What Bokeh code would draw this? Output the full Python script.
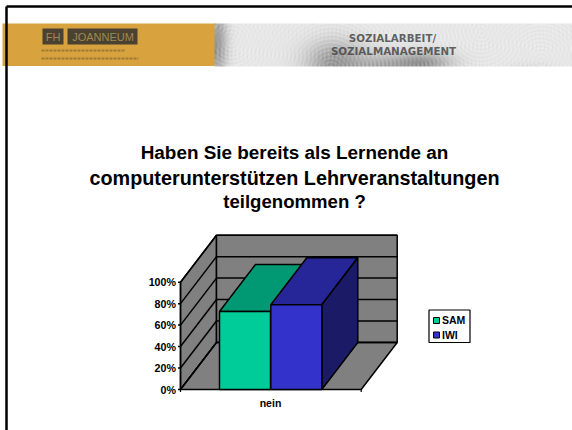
import numpy as np
from bokeh.plotting import figure
from bokeh.models import Range1d
from bokeh.core.properties import value
from bokeh.embed import file_html
from bokeh.resources import INLINE

# ---- chart values
categories = ["nein"]
series_names = ["SAM", "IWI"]
sam_values = [72.7]
iwi_values = [79.0]
tick_values = [0, 20, 40, 60, 80, 100]
tick_labels = ["0%", "20%", "40%", "60%", "80%", "100%"]
title_lines = ["Haben Sie bereits als Lernende an",
               "computerunterstützen Lehrveranstaltungen",
               "teilgenommen ?"]

W, H = 572, 430
PX_PER_PCT = 1.073     # vertical scale of the value axis
Y0_PX = 389            # page pixel of the 0% line
DX, DY = 36, 47 / PX_PER_PCT   # 3-D depth
X0, X1 = 180, 360.7    # floor front edge
BAR_L, BAR_W = 219, 51


def Y(px):
    return (Y0_PX - px) / PX_PER_PCT


FONT = value("Liberation Sans")
p = figure(width=W, height=H, output_backend="svg", toolbar_location=None,
           x_range=Range1d(0, W), y_range=Range1d(Y(H), Y(0)),
           x_axis_type=None, y_axis_type=None, min_border=0,
           outline_line_color=None)
p.grid.visible = False

# ---- banner
GOLD = "#D8A33F"
p.quad(left=2, right=215, bottom=Y(65.5), top=Y(23), fill_color=GOLD, line_color=None)

bw, bh = 358, 43
yy, xx = np.mgrid[0:bh, 0:bw]
xx = xx + 214.0
yy = yy + 23.0
shade = np.zeros((bh, bw))
ripple = np.zeros((bh, bw))
blobs = [(335, 62, 30, 22, 0.30), (420, 62, 30, 11, 0.32), (380, 68, 25, 14, 0.18),
         (216, 42, 10, 40, 0.30), (530, 72, 22, 8, 0.08)]
for cx, cy, sx, sy, amp in blobs:
    g = np.exp(-(((xx - cx) / sx) ** 2 + ((yy - cy) / sy) ** 2))
    shade += amp * g
for cx, cy in [(330, 70), (480, 30), (230, 40), (540, 60)]:
    ripple += np.sin(np.hypot(xx - cx, yy - cy) * 1.6)
ripple /= 4
gray = 0.91 - shade + ripple * (0.07 + 0.40 * shade)
gray = np.clip(gray, 0, 1)
k = np.array([0.25, 0.5, 0.25])
gray = np.apply_along_axis(lambda r: np.convolve(r, k, mode="same"), 1, gray)
gray[:, 0] = gray[:, 1]
gray[:, -1] = gray[:, -2]
img = np.zeros((bh, bw), dtype=np.uint32)
view = img.view(dtype=np.uint8).reshape((bh, bw, 4))
v = (gray * 255).astype(np.uint8)
view[..., 0] = v
view[..., 1] = v
view[..., 2] = v
view[..., 3] = 255
p.image_rgba(image=[img[::-1]], x=214, y=Y(66), dw=bw, dh=(bh) / PX_PER_PCT)

# logo
p.quad(left=[42, 67], right=[63, 137], bottom=Y(44), top=Y(28),
       fill_color="#3B3630", line_color=None, fill_alpha=0.9)
p.text(x=[52.5, 102.5], y=Y(36), text=["FH", "JOANNEUM"], text_font=FONT,
       text_font_size="11px", text_color="#A08850", text_align="center",
       text_baseline="middle")
p.segment(x0=[41, 41], x1=[125, 138], y0=[Y(50), Y(58)], y1=[Y(50), Y(58)],
          line_color="#5A4A2E", line_width=2, line_alpha=0.45, line_dash="3 1")
p.text(x=[392, 393], y=[Y(37), Y(50)], text=["SOZIALARBEIT/", "SOZIALMANAGEMENT"],
       text_font=value("DejaVu Sans"), text_font_style="bold", text_font_size="10.3px",
       text_color="#3c3c3c", text_align="center", text_baseline="middle", text_alpha=0.8)

# ---- slide frame
p.segment(x0=[6, 6], x1=[6, W], y0=[Y(6), Y(6)], y1=[Y(H), Y(6)],
          line_color="#000000", line_width=2.5)

# ---- title
p.text(x=[294, 294, 294], y=[Y(152), Y(177), Y(201)], text=title_lines, text_font=FONT,
       text_font_style="bold", text_font_size=["18.9px", "19.8px", "18.6px"],
       text_color="#000000", text_align="center", text_baseline="middle")

# ---- 3-D chart box
WALL = "#808080"
top = tick_values[-1]
bl = 0
p.patch([X0, X0 + DX, X0 + DX, X0], [bl, bl + DY, top + DY, top], fill_color=WALL,
        line_color="#000000", line_width=1.5)
p.patch([X0 + DX, X1 + DX, X1 + DX, X0 + DX], [bl + DY, bl + DY, top + DY, top + DY],
        fill_color=WALL, line_color="#000000", line_width=1.5)
p.patch([X0, X1, X1 + DX, X0 + DX], [bl, bl, bl + DY, bl + DY], fill_color=WALL,
        line_color="#000000", line_width=1.5)
# gridlines on the walls
p.segment(x0=[X0 + DX] * len(tick_values), x1=[X1 + DX] * len(tick_values),
          y0=[t + DY for t in tick_values], y1=[t + DY for t in tick_values],
          line_color="#000000", line_width=1.5)
p.segment(x0=[X0] * len(tick_values), x1=[X0 + DX] * len(tick_values),
          y0=tick_values, y1=[t + DY for t in tick_values],
          line_color="#000000", line_width=1.5)
# value axis
p.segment(x0=[X0], x1=[X0], y0=[0], y1=[top], line_color="#000000", line_width=1.5)
p.segment(x0=[X0 - 2.5] * len(tick_values), x1=[X0] * len(tick_values),
          y0=tick_values, y1=tick_values, line_color="#000000", line_width=1.5)
p.text(x=X0 - 4.5, y=tick_values, text=tick_labels, text_font=FONT, text_font_style="bold",
       text_font_size="10.7px", text_color="#000000", text_align="right", text_baseline="middle")
# category axis
p.segment(x0=[X0, X1], x1=[X0, X1], y0=[0, 0], y1=[Y(391.5), Y(391.5)],
          line_color="#000000", line_width=1.2)
p.text(x=270, y=Y(402), text=categories, text_font=FONT, text_font_style="bold",
       text_font_size="10.5px", text_color="#000000", text_align="center", text_baseline="middle")

# ---- bars
colors = [("#00CC99", "#009973", "#006B50"), ("#3333CC", "#262699", "#1A1A66")]
for i, vals in enumerate([sam_values, iwi_values]):
    val = vals[0]
    l = BAR_L + i * BAR_W + (0.3 if i else 0)
    r = l + BAR_W
    front, toc, side = colors[i]
    p.patch([l, r, r + DX, l + DX], [val, val, val + DY, val + DY], fill_color=toc,
            line_color="#000000", line_width=1.5)
    p.patch([r, r + DX, r + DX, r], [0, DY, val + DY, val], fill_color=side,
            line_color="#000000", line_width=1.5)
    p.patch([l, r, r, l], [0, 0, val, val], fill_color=front,
            line_color="#000000", line_width=1.5)

# ---- legend
p.quad(left=428.5, right=469.5, bottom=Y(342), top=Y(309.5), fill_color="#FFFFFF",
       line_color="#000000", line_width=1.2)
p.quad(left=[433, 433], right=[439, 439], bottom=[Y(323), Y(337.5)], top=[Y(317), Y(331.5)],
       fill_color=[colors[0][0], colors[1][0]], line_color="#000000", line_width=1)
p.text(x=[441.5, 441.5], y=[Y(319.5), Y(334)], text=series_names, text_font=FONT,
       text_font_style="bold", text_font_size="10.5px", text_color="#000000",
       text_align="left", text_baseline="middle")

html = file_html(p, INLINE).replace("<head>", "<head><style>html,body{margin:0;padding:0}</style>", 1)
open("out.html", "w").write(html)
